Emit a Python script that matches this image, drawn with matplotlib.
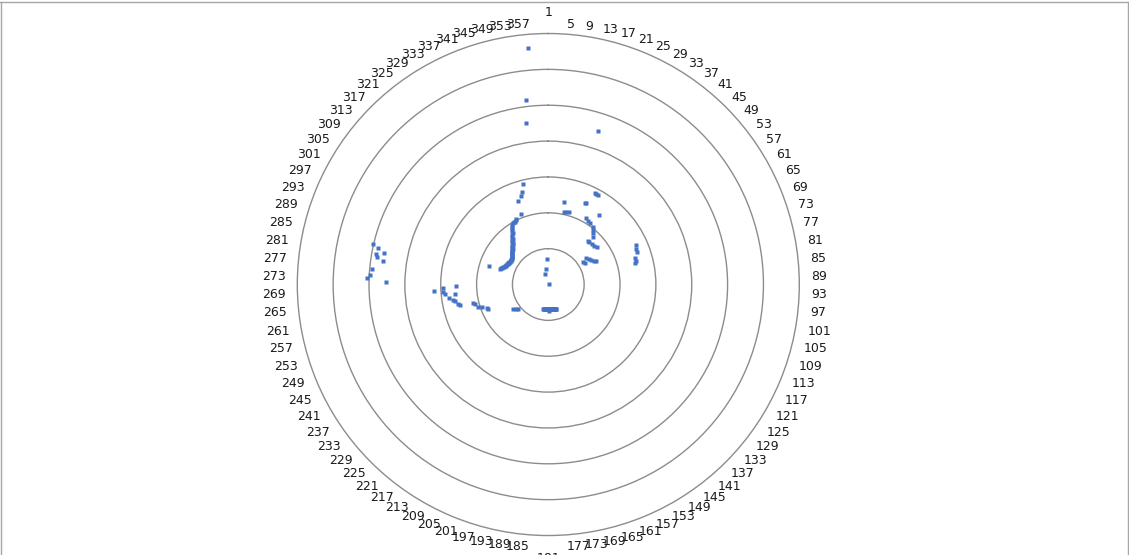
import numpy as np
import matplotlib
matplotlib.use("Agg")
import matplotlib.pyplot as plt
from matplotlib.lines import Line2D

# ---- data: category (1..360, degrees+1) and radial value (ring units) ----
top_cats = [356, 354, 353, 19]
top_vals = [6.61, 5.19, 4.55, 4.49]

upper_cats = [347, 345, 344, 341, 340]
upper_vals = [2.90, 2.68, 2.59, 2.47, 2.10]

wall_cats = [335, 334, 333, 332, 331, 330, 329, 328, 327, 326, 325, 324, 323, 322,
             321, 320, 319, 318, 317, 316, 315, 314, 313, 312, 311, 310, 309, 308,
             307, 306, 305, 304, 303, 302, 301, 300, 299, 298, 297, 296, 295, 294,
             293, 292, 291, 290, 289, 288]
wall_vals = [2.04, 2.01, 1.99, 2.00, 1.98, 1.94, 1.89, 1.84, 1.79, 1.74, 1.70, 1.66,
             1.62, 1.59, 1.56, 1.52, 1.49, 1.47, 1.44, 1.41, 1.39, 1.37, 1.35, 1.33,
             1.31, 1.29, 1.27, 1.26, 1.25, 1.24, 1.24, 1.23, 1.23, 1.24, 1.25, 1.25,
             1.26, 1.27, 1.28, 1.29, 1.30, 1.32, 1.34, 1.36, 1.38, 1.40, 1.42, 1.72]

right_cats = [28, 29, 30, 12, 25, 26, 13, 15, 17, 37, 31, 33, 35, 39, 40, 42, 44,
              43, 45, 48, 51, 53, 67, 69, 71, 74, 76, 77, 56, 59, 61, 64, 65, 58, 61]
right_vals = [2.87, 2.86, 2.86, 2.34, 2.50, 2.50, 2.06, 2.08, 2.10, 2.39, 2.13, 2.10,
              2.07, 2.04, 1.96, 1.89, 1.82, 1.64, 1.64, 1.66, 1.68, 1.72, 2.69, 2.65,
              2.62, 2.52, 2.54, 2.48, 1.30, 1.33, 1.37, 1.43, 1.47, 1.16, 1.18]

lower_left_cats = [268, 269, 267, 266, 270, 265, 263, 262, 261, 259, 258, 257, 256,
                   253, 252, 250, 249, 232, 234, 236]
lower_left_vals = [3.20, 2.95, 2.94, 2.88, 2.57, 2.62, 2.80, 2.69, 2.65, 2.58, 2.54,
                   2.16, 2.11, 2.06, 1.96, 1.83, 1.80, 1.09, 1.14, 1.20]

bottom_cats = [163, 164, 165, 166, 167, 168, 169, 170, 171, 172, 173, 174, 175, 176,
               177, 178, 179, 180, 181, 182, 183, 184, 185, 186, 187, 188, 189, 190,
               191, 192, 180]
bottom_vals = [0.724, 0.720, 0.717, 0.713, 0.710, 0.707, 0.704, 0.702, 0.700, 0.698,
               0.696, 0.694, 0.693, 0.692, 0.690, 0.690, 0.689, 0.689, 0.689, 0.689,
               0.689, 0.690, 0.690, 0.692, 0.693, 0.694, 0.696, 0.698, 0.700, 0.702,
               0.73]

center_cats = [359, 353, 344, 60]
center_vals = [0.70, 0.43, 0.30, 0.02]

left_cats = [284, 283, 281, 280, 282, 279, 276, 274, 273, 272]
left_vals = [5.03, 4.85, 4.89, 4.84, 4.67, 4.66, 4.94, 4.99, 5.05, 4.54]

ring_values = [1, 2, 3, 4, 5, 6]
r_max = 7
label_categories = list(range(1, 361, 4))

# ---- figure ----
W, H, DPI = 1129, 555, 100
fig = plt.figure(figsize=(W / DPI, H / DPI), dpi=DPI)
fig.patch.set_facecolor("white")

ax = fig.add_axes([0.2633, 0.0351, 0.4447, 0.9045], projection="polar")
ax.set_theta_zero_location("N")
ax.set_theta_direction(-1)
ax.set_facecolor("none")
ax.set_ylim(0, r_max)
ax.set_yticks(ring_values)
ax.set_yticklabels([])
ax.set_xticks([])
ax.yaxis.grid(True, color="#8c8c8c", linewidth=1.0)
ax.spines["polar"].set_color("#8c8c8c")
ax.spines["polar"].set_linewidth(1.0)

groups = [(top_cats, top_vals), (upper_cats, upper_vals), (wall_cats, wall_vals),
          (right_cats, right_vals), (lower_left_cats, lower_left_vals),
          (bottom_cats, bottom_vals), (center_cats, center_vals),
          (left_cats, left_vals)]
for cats, vals in groups:
    theta = np.deg2rad(np.array(cats) - 1)
    ax.plot(theta, vals, ls="none", marker="s", ms=3.0, color="#4472C4",
            mec="none", clip_on=False)

PX = 72.0 / DPI
for cat in label_categories:
    ang = np.deg2rad(cat - 1)
    s, c = np.sin(ang), np.cos(ang)
    if abs(s) < 1e-6:
        ha = "center"
        dx, dy = 0.0, 22.0 * np.sign(c)
    else:
        ha = "left" if s > 0 else "right"
        dx, dy = 12.0 * s, 11.0 * c
    ax.annotate(str(cat), xy=(ang, r_max), xytext=(dx * PX, (dy - 1.0) * PX),
                textcoords="offset points", ha=ha, va="center", fontsize=9,
                color="#1a1a1a", annotation_clip=False)

# chart-area border (cropped)
bc = "#a6a6a6"
fig.add_artist(Line2D([0, 1], [1 - 1.5 / H, 1 - 1.5 / H], transform=fig.transFigure,
                      color=bc, lw=1.0))
fig.add_artist(Line2D([0.5 / W, 0.5 / W], [0, 1 - 1.5 / H], transform=fig.transFigure,
                      color=bc, lw=1.0))
fig.add_artist(Line2D([1 - 1.5 / W, 1 - 1.5 / W], [0, 1 - 1.5 / H],
                      transform=fig.transFigure, color=bc, lw=1.0))

fig.savefig("out.png", dpi=DPI, facecolor="white")
